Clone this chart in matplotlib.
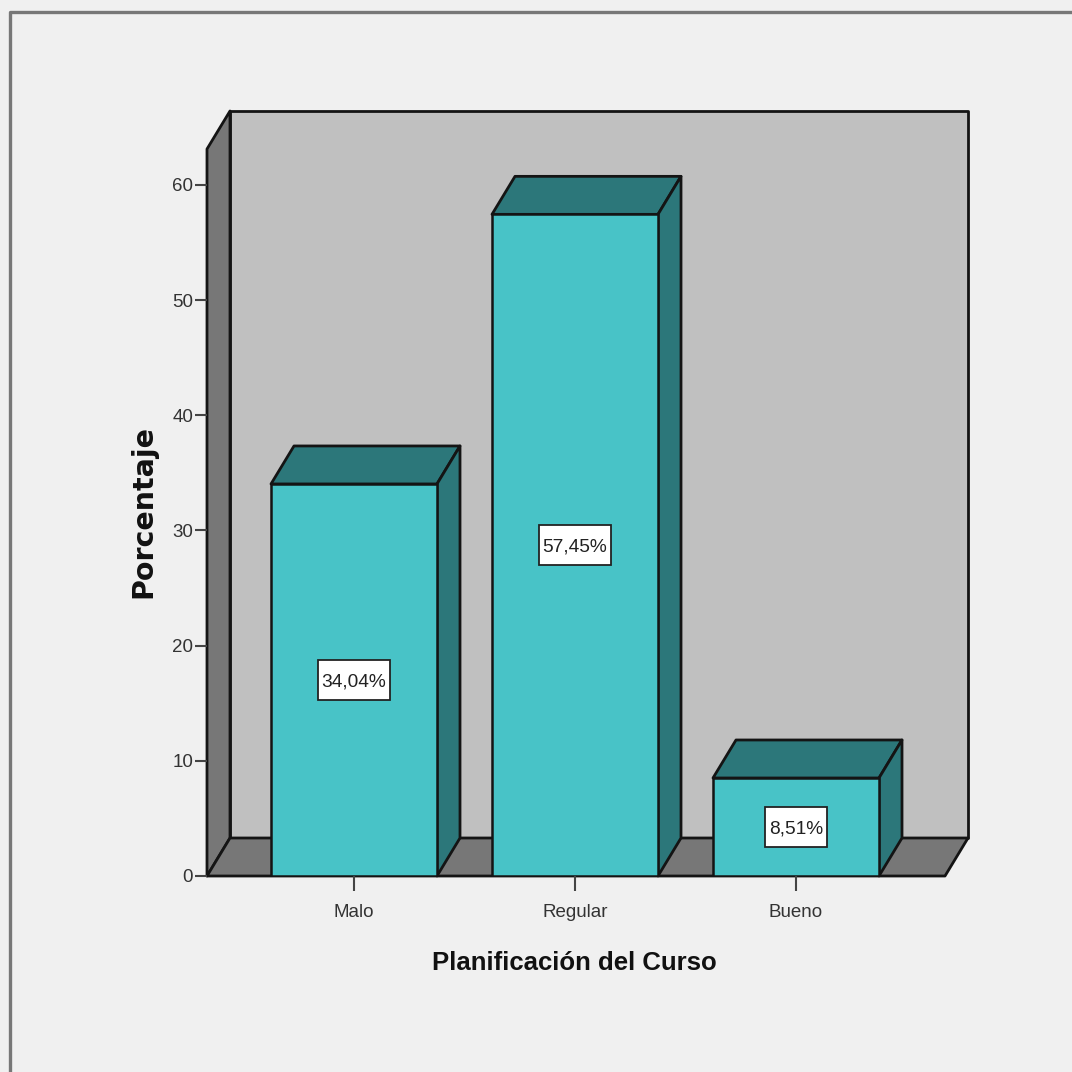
import matplotlib
matplotlib.use('Agg')
import matplotlib.pyplot as plt
from matplotlib.lines import Line2D
from matplotlib.patches import Polygon
from matplotlib.path import Path

categories = ['Malo', 'Regular', 'Bueno']
percentages = [34.04, 57.45, 8.51]
point_labels = ['34,04%', '57,45%', '8,51%']
y_ticks = [0, 10, 20, 30, 40, 50, 60]

bg = '#f0f0f0'
wall = '#c0c0c0'
dark = '#777777'
bar_front = '#48c3c7'
bar_shade = '#2c777a'
edge = '#141414'

plt.rcParams['font.family'] = ['Liberation Sans', 'DejaVu Sans']

fig = plt.figure(figsize=(10.72, 10.72), dpi=100, facecolor=bg)
# axes box is the front of the 3d frame, in pixels: x 207-945, y 149-876
ax = fig.add_axes([207 / 1072, 1 - 876 / 1072, (945 - 207) / 1072, (876 - 149) / 1072])
ax.set_facecolor('none')
ax.set_xlim(-147 / 221, 591 / 221)
ax.set_ylim(0, 727 / 11.517)
for s in ax.spines.values():
    s.set_visible(False)

# depth of the fake 3d, in data units
dx = 23 / 221
dy = 38 / 11.517
x0, x1 = ax.get_xlim()
y1 = ax.get_ylim()[1]


def face(pts, color, z):
    ax.add_patch(Polygon(pts, closed=True, facecolor=color, edgecolor=edge,
                         linewidth=2, clip_on=False, zorder=z, joinstyle='round'))


# label box: tight at the sides, tall, centred on the digits
def label_box(x, y, w, h, m):
    cy = y + h / 2 + 0.1 * m
    hh = 1.05 * m
    side = 0.2 * m
    return Path([(x - side, cy - hh), (x + w + side, cy - hh), (x + w + side, cy + hh),
                 (x - side, cy + hh), (x - side, cy - hh)], closed=True)


face([(x0 + dx, dy), (x1 + dx, dy), (x1 + dx, y1 + dy), (x0 + dx, y1 + dy)], wall, 1)
face([(x0, 0), (x0 + dx, dy), (x0 + dx, y1 + dy), (x0, y1)], dark, 1)
face([(x0, 0), (x1, 0), (x1 + dx, dy), (x0 + dx, dy)], dark, 1)

bar_w = 166 / 221
xs = list(range(len(categories)))
ax.bar(xs, percentages, width=bar_w, color=bar_front, edgecolor=edge, linewidth=1.8, zorder=4)
for x, v in zip(xs, percentages):
    l, r = x - bar_w / 2, x + bar_w / 2
    face([(l, v), (r, v), (r + dx, v + dy), (l + dx, v + dy)], bar_shade, 3)
    face([(r, 0), (r + dx, dy), (r + dx, v + dy), (r, v)], bar_shade, 3)

for x, v, lab in zip(xs, percentages, point_labels):
    ax.text(x, v / 2, lab, ha='center', va='center_baseline', fontsize=13.8, color='#222222', zorder=6,
            bbox=dict(boxstyle=label_box, facecolor='white', edgecolor='#222222', linewidth=1.3))

ax.set_xticks(xs)
ax.set_xticklabels(categories, fontsize=13.5, color='#333333')
ax.set_yticks(y_ticks)
ax.set_yticklabels([str(t) for t in y_ticks], fontsize=13.5, color='#333333')
ax.tick_params(axis='x', length=11, width=1.5, color='#444444', pad=9)
ax.tick_params(axis='y', length=9, width=1.5, color='#444444', pad=1)

fig.text(574 / 1072, 1 - 963 / 1072, 'Planificación del Curso', ha='center', va='center',
         fontsize=18.5, fontweight='bold', color='#111111')
fig.text(143 / 1072, 1 - 512 / 1072, 'Porcentaje', ha='center', va='center', rotation=90,
         fontsize=20.5, fontweight='bold', color='#111111', family=['DejaVu Sans'])

# outer window border
fig.add_artist(Line2D([9.5 / 1072, 9.5 / 1072, 1], [0, 1 - 12 / 1072, 1 - 12 / 1072],
                      color='#777777', linewidth=2.4))

fig.savefig('out.png', dpi=100, facecolor=bg)
